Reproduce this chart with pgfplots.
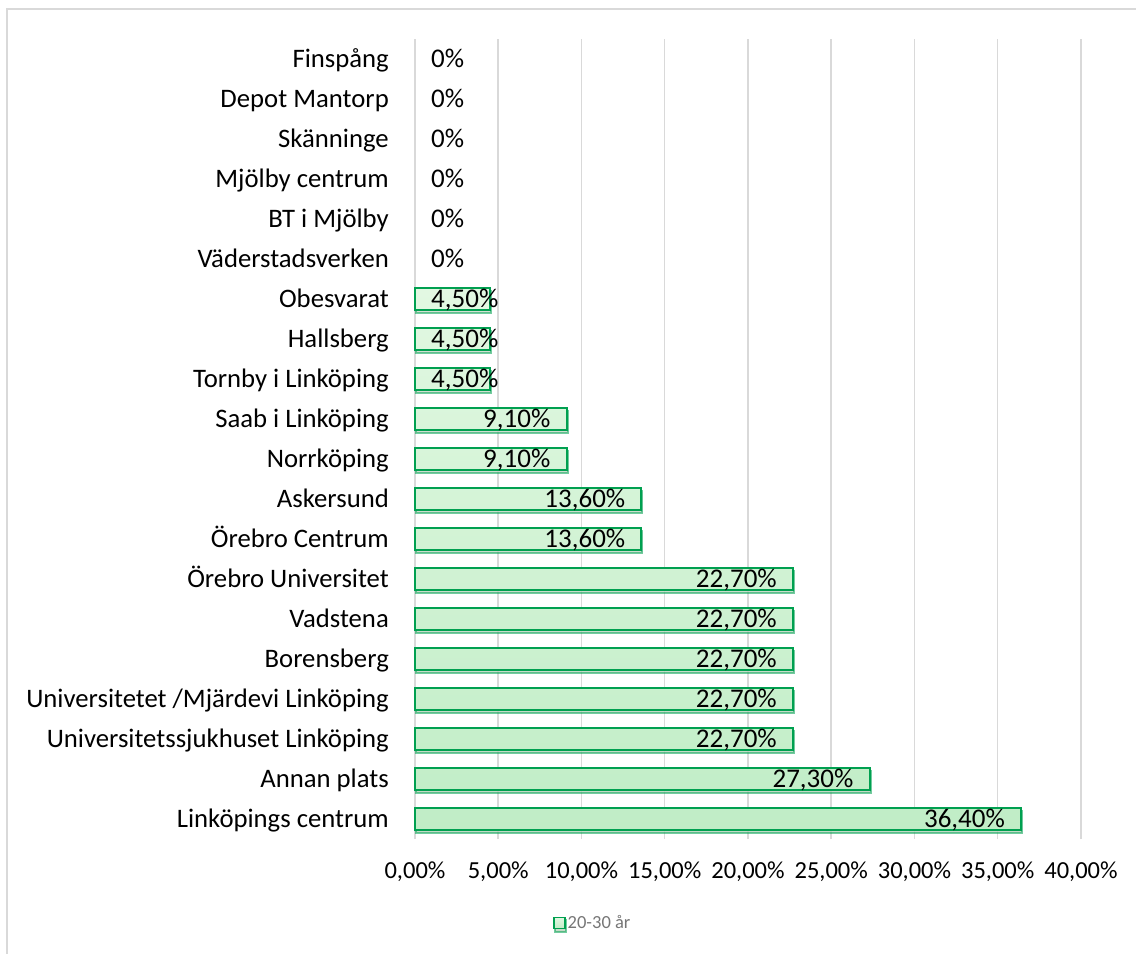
\documentclass[border=0pt]{standalone}
\usepackage{pgfplots}
\pgfplotsset{compat=1.18}
\usepackage{fontspec}
\setmainfont{Carlito}
\usetikzlibrary{shadows}
\definecolor{barborder}{RGB}{0,160,80}
\definecolor{bartop}{RGB}{226,248,226}
\definecolor{barbot}{RGB}{192,237,198}
\definecolor{gridc}{RGB}{217,217,217}
\definecolor{legtext}{RGB}{118,118,118}
\definecolor{shadowc}{RGB}{150,150,150}
\begin{document}
\begin{tikzpicture}
\useasboundingbox (-415bp,-115bp) rectangle (721bp,839bp);
\begin{axis}[
  scale only axis, width=666bp, height=800bp,
  xmin=0, xmax=40, ymin=-0.5, ymax=19.5,
  axis line style={draw=none},
  major tick length=0pt,
  xmajorgrids, grid style={gridc, line width=1.5bp},
  xtick={0,5,...,40},
  xticklabels={{0,00\%},{5,00\%},{10,00\%},{15,00\%},{20,00\%},{25,00\%},{30,00\%},{35,00\%},{40,00\%}},
  ytick={0,...,19},
  yticklabels={Linköpings centrum,Annan plats,Universitetssjukhuset Linköping,Universitetet /Mjärdevi Linköping,Borensberg,Vadstena,Örebro Universitet,Örebro Centrum,Askersund,Norrköping,Saab i Linköping,Tornby i Linköping,Hallsberg,Obesvarat,Väderstadsverken,BT i Mjölby,Mjölby centrum,Skänninge,Depot Mantorp,Finspång},
  /pgf/number format/assume math mode=true,
  xticklabel style={font=\fontsize{24.5bp}{28bp}\selectfont, anchor=base, inner sep=0pt, yshift=-39bp},
  yticklabel style={font=\fontsize{26.7bp}{30bp}\selectfont, anchor=base east, inner sep=0pt, xshift=-26bp, yshift=-8.7bp},
  legend style={at={(0.267,-0.105)}, anchor=center, draw=none, fill=none,
    font=\fontsize{18.5bp}{22bp}\selectfont\color{legtext}},
  legend image code/.code={\draw[barborder, line width=1.5bp, fill=bartop!60!barbot] (0bp,-5.5bp) rectangle (11bp,5.5bp);},
  clip=false,
]
\addplot[xbar, bar width=0.53, bar shift=0pt, draw=barborder, line width=2bp,
  top color=bartop, bottom color=barbot,
  drop shadow={shadow xshift=1bp, shadow yshift=-3bp, fill=shadowc, opacity=0.55}]
coordinates {(36.4,0) (27.3,1) (22.7,2) (22.7,3) (22.7,4) (22.7,5) (22.7,6) (13.6,7) (13.6,8) (9.1,9) (9.1,10) (4.5,11) (4.5,12) (4.5,13)};
\addlegendentry{20-30 år}
% labels inside bar ends
\addplot[draw=none, mark=none, forget plot, point meta=explicit symbolic,
  nodes near coords, nodes near coords align={anchor=base east},
  every node near coord/.append style={anchor=base east, inner xsep=16bp, inner ysep=0pt, yshift=-8.6bp, text=black, font=\fontsize{27bp}{30bp}\selectfont}]
coordinates {(36.4,0) [36,40\%] (27.3,1) [27,30\%] (22.7,2) [22,70\%] (22.7,3) [22,70\%] (22.7,4) [22,70\%] (22.7,5) [22,70\%] (22.7,6) [22,70\%] (13.6,7) [13,60\%] (13.6,8) [13,60\%] (9.1,9) [9,10\%] (9.1,10) [9,10\%]};
% labels from axis start
\addplot[draw=none, mark=none, forget plot, point meta=explicit symbolic,
  nodes near coords, nodes near coords align={anchor=base west},
  every node near coord/.append style={anchor=base west, inner xsep=16bp, inner ysep=0pt, yshift=-8.6bp, text=black, font=\fontsize{27bp}{30bp}\selectfont}]
coordinates {(0,11) [4,50\%] (0,12) [4,50\%] (0,13) [4,50\%] (0,14) [0\%] (0,15) [0\%] (0,16) [0\%] (0,17) [0\%] (0,18) [0\%] (0,19) [0\%]};
\end{axis}
\draw[gridc, line width=2bp] (-408bp,-120bp) -- (-408bp,830bp) -- (730bp,830bp);
\end{tikzpicture}
\end{document}
